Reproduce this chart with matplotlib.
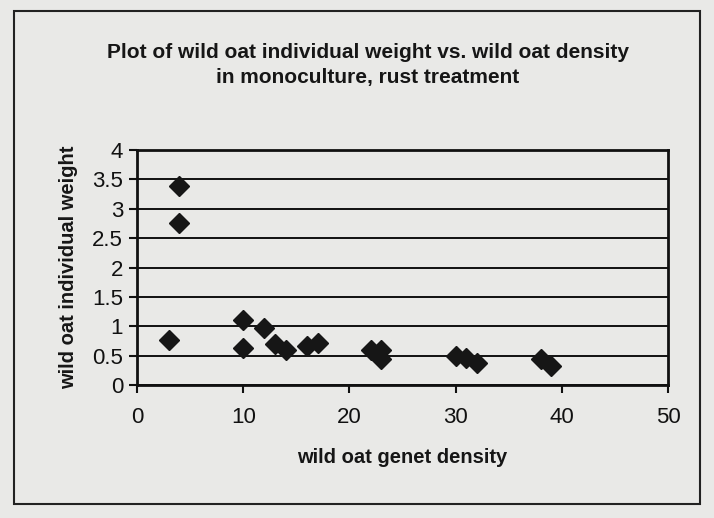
import matplotlib
matplotlib.use("Agg")
import matplotlib.pyplot as plt
from matplotlib.patches import Rectangle

# Data
density = [3, 4, 4, 10, 10, 12, 13, 14, 16, 17, 22, 23, 23, 30, 31, 32, 38, 39]
weight = [0.77, 3.39, 2.76, 1.10, 0.63, 0.97, 0.70, 0.59, 0.67, 0.72,
          0.60, 0.60, 0.45, 0.50, 0.46, 0.38, 0.44, 0.32]
x_ticks = [0, 10, 20, 30, 40, 50]
y_ticks = [0, 0.5, 1, 1.5, 2, 2.5, 3, 3.5, 4]
y_tick_labels = ["0", "0.5", "1", "1.5", "2", "2.5", "3", "3.5", "4"]

title = "Plot of wild oat individual weight vs. wild oat density\nin monoculture, rust treatment"
xlabel = "wild oat genet density"
ylabel = "wild oat individual weight"

FONT = ["Liberation Sans Narrow", "Liberation Sans", "DejaVu Sans"]
plt.rcParams["font.family"] = FONT

bg = "#e9e9e7"
fig = plt.figure(figsize=(7.14, 5.18), dpi=100, facecolor=bg)
ax = fig.add_axes([137/714, 1-385/518, (668-137)/714, (385-150)/518])
ax.set_facecolor(bg)

# outer chart frame
fig.patches.append(Rectangle((14/714, 1-504/518), (700-14)/714, (504-11)/518,
                             transform=fig.transFigure, fill=False,
                             edgecolor="#222222", linewidth=1.5))

ax.set_xlim(0, 50)
ax.set_ylim(0, 4)
ax.set_xticks(x_ticks)
ax.set_yticks(y_ticks)
ax.set_yticklabels(y_tick_labels)
ax.yaxis.grid(True, color="#111111", linewidth=1.4)
ax.set_axisbelow(True)
for s in ax.spines.values():
    s.set_linewidth(2)
    s.set_color("#111111")
ax.tick_params(axis="both", direction="out", length=6, width=1.5,
               colors="#111111", labelsize=16, pad=4)
ax.tick_params(axis="x", pad=10)

ax.plot(density, weight, linestyle="none", marker="D", markersize=10,
        color="#161616", markeredgecolor="#161616", zorder=3, clip_on=False)

ax.set_xlabel(xlabel, fontsize=14.5, fontweight="bold", labelpad=14, color="#161616")
ax.set_ylabel(ylabel, fontsize=14.5, fontweight="bold", labelpad=10, color="#161616")
fig.text(368/714, 1-65/518, title, ha="center", va="center", fontsize=15,
         fontweight="bold", color="#161616", linespacing=1.4)

fig.savefig("out.png", dpi=100, facecolor=bg)
